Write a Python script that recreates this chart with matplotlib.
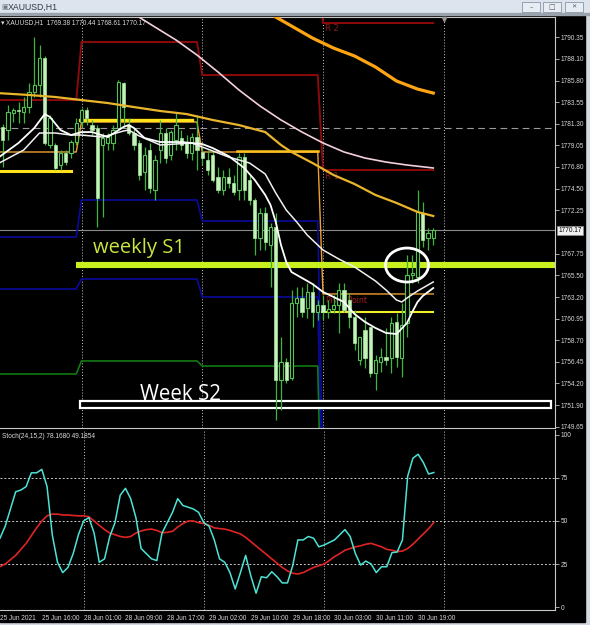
import numpy as np
import matplotlib
matplotlib.use("Agg")
import matplotlib.pyplot as plt
from matplotlib import font_manager
from matplotlib.patches import Rectangle, Ellipse

installed = {f.name for f in font_manager.fontManager.ttflist}
if 'Liberation Sans Narrow' in installed:
    SMALL, FS = 'Liberation Sans Narrow', 5.4
else:
    SMALL, FS = 'Liberation Sans', 4.7
plt.rcParams['font.family'] = [SMALL, 'DejaVu Sans']

# ---- data (bar index 0 = 28 Jun 01:00, H1 bars) ----
bars = np.arange(-15, 68)
opens = [1780.96, 1780.64, 1782.42, 1782.73, 1782.52, 1783.04, 1784.61, 1785.34, 1788.16, 1779.08, 1779.08, 1776.99, 1778.24, 1778.24, 1779.39,
         1781.48, 1782.73, 1781.16, 1780.85, 1779.08, 1779.29, 1779.29, 1780.85, 1785.55, 1781.16, 1780.33, 1779.29, 1776.26, 1778.56, 1774.38, 1778.56, 1780.33, 1778.03, 1779.60, 1779.81, 1779.29, 1778.24, 1779.91,
         1778.35, 1777.51, 1778.03, 1775.74, 1774.38, 1775.74, 1775.11, 1774.38, 1777.83, 1775.43, 1773.34, 1769.37, 1771.98, 1768.64, 1770.52, 1754.55, 1756.43, 1754.76, 1762.59, 1763.11, 1762.07, 1763.74, 1761.65,
         1762.38, 1761.65, 1761.96, 1762.38, 1763.95, 1762.90, 1761.13, 1756.64, 1759.77, 1760.08, 1755.28, 1756.43, 1756.95, 1756.85, 1760.61, 1756.85, 1760.50, 1765.51, 1765.30, 1771.98, 1769.37, 1769.38]
highs = [1781.27, 1783.25, 1782.94, 1783.56, 1784.09, 1785.55, 1790.35, 1789.51, 1788.37, 1782.21, 1779.29, 1778.56, 1778.56, 1779.60, 1781.90,
         1782.94, 1783.04, 1781.69, 1781.16, 1780.33, 1780.33, 1781.16, 1785.86, 1785.65, 1781.90, 1780.85, 1779.60, 1778.87, 1779.29, 1778.03, 1781.69, 1780.85, 1780.64, 1782.42, 1780.64, 1780.12, 1780.33, 1782.21,
         1778.76, 1778.56, 1778.56, 1776.78, 1776.47, 1776.68, 1775.95, 1778.24, 1778.24, 1775.95, 1773.55, 1772.50, 1772.61, 1770.94, 1771.98, 1759.04, 1756.85, 1763.95, 1764.26, 1764.26, 1764.68, 1764.68, 1762.90,
         1763.42, 1762.90, 1763.42, 1764.68, 1764.68, 1763.63, 1761.86, 1759.04, 1761.13, 1760.08, 1757.16, 1757.89, 1759.98, 1761.13, 1761.55, 1762.59, 1767.60, 1767.60, 1774.38, 1773.13, 1770.42, 1770.44]
lows = [1776.78, 1779.60, 1781.48, 1781.37, 1781.37, 1782.42, 1784.09, 1784.09, 1779.08, 1778.76, 1776.47, 1776.47, 1776.99, 1777.72, 1779.08,
        1780.96, 1781.16, 1780.12, 1770.52, 1771.56, 1778.56, 1778.56, 1780.64, 1780.96, 1780.12, 1778.56, 1775.43, 1774.38, 1774.07, 1773.34, 1777.20, 1777.20, 1777.51, 1778.56, 1778.56, 1777.72, 1777.51, 1776.47,
        1776.99, 1775.95, 1775.22, 1774.07, 1773.86, 1774.59, 1773.86, 1773.34, 1773.34, 1772.82, 1767.60, 1768.12, 1768.12, 1764.26, 1750.38, 1751.42, 1754.24, 1754.55, 1761.13, 1761.13, 1761.02, 1760.08, 1760.82,
        1760.82, 1761.02, 1761.55, 1759.46, 1761.65, 1759.98, 1757.68, 1756.12, 1755.81, 1754.87, 1753.51, 1755.39, 1756.12, 1755.28, 1755.91, 1754.87, 1759.04, 1764.68, 1764.68, 1768.43, 1768.12, 1768.61]
closes = [1779.60, 1782.52, 1782.73, 1782.63, 1783.04, 1784.61, 1785.34, 1788.16, 1779.29, 1781.90, 1776.68, 1778.24, 1777.30, 1779.39, 1781.37,
          1782.73, 1781.90, 1780.64, 1773.55, 1779.81, 1779.91, 1780.64, 1785.65, 1783.04, 1780.33, 1779.08, 1775.95, 1778.03, 1774.59, 1777.51, 1780.33, 1777.72, 1780.43, 1781.16, 1779.08, 1778.24, 1779.91, 1778.56,
          1777.72, 1776.47, 1775.43, 1774.38, 1775.74, 1775.11, 1774.17, 1777.83, 1774.38, 1773.34, 1769.37, 1771.98, 1768.95, 1770.52, 1754.55, 1756.43, 1754.55, 1762.59, 1763.11, 1761.65, 1763.74, 1761.65, 1762.38,
          1761.65, 1761.96, 1762.38, 1763.95, 1761.86, 1761.13, 1758.41, 1759.04, 1756.85, 1755.28, 1756.64, 1756.95, 1756.64, 1760.50, 1756.95, 1760.29, 1765.51, 1765.72, 1772.09, 1769.16, 1769.89, 1770.17]

# moving averages (bar, price)
ma_slow_k = [36, 40, 44, 48, 52, 56, 60, 64, 67]
ma_slow = [1792.75, 1791.50, 1790.24, 1789.20, 1788.37, 1787.22, 1785.76, 1784.92, 1784.50]
ma_mid_k = [-16, -10, -5, 0, 5, 10, 15, 20, 25, 30, 35, 38, 40, 44, 48, 52, 56, 60, 64, 67]
ma_mid = [1784.50, 1784.30, 1784.09, 1783.77, 1783.46, 1783.04, 1782.63, 1782.31, 1781.69, 1781.16, 1780.43, 1779.08, 1778.35,
          1777.20, 1775.95, 1775.01, 1773.86, 1773.03, 1772.09, 1771.67]
ma_pink_k = [10, 14, 18, 22, 26, 30, 34, 38, 42, 46, 50, 54, 58, 62, 67]
ma_pink = [1792.75, 1791.39, 1790.04, 1788.47, 1786.70, 1784.82, 1783.15, 1781.69, 1780.43, 1779.29, 1778.35, 1777.72, 1777.30, 1776.99, 1776.68]
ma_fast_k = [-16, -12, -9, -7, -6, -4, -2, 0, 2, 5, 8, 9, 10, 12, 15, 19, 23, 25, 28, 31, 33, 35, 36, 37, 38, 39, 40, 42, 44, 46, 48,
             50, 52, 54, 56, 58, 60, 62, 63, 64, 65, 67]
ma_fast = [1777.70, 1779.29, 1780.85, 1782.31, 1782.00, 1780.64, 1780.12, 1780.43, 1780.43, 1779.91, 1780.96, 1781.17, 1780.85, 1779.81,
           1779.39, 1779.39, 1779.18, 1778.76, 1777.93, 1776.68, 1775.43, 1773.86, 1772.82, 1771.04, 1768.64, 1766.87, 1765.82, 1765.20,
           1764.57, 1763.74, 1763.22, 1762.69, 1761.44, 1760.61, 1759.98, 1759.46, 1759.35, 1760.50, 1761.65, 1762.69, 1763.32, 1764.15]
ma_white_k = [-16, -11, -8, -5, -2, 0, 4, 8, 9, 11, 15, 21, 24, 28, 32, 35, 37, 39, 41, 43, 46, 49, 52, 56, 58, 60, 61, 62, 64, 67]
ma_white = [1777.10, 1778.56, 1780.33, 1780.33, 1780.12, 1780.12, 1779.91, 1780.54, 1780.64, 1780.02, 1779.08, 1779.29, 1778.66, 1777.83,
            1777.20, 1776.05, 1774.07, 1772.29, 1771.04, 1769.68, 1768.12, 1767.18, 1766.35, 1764.88, 1763.95, 1762.90, 1762.69, 1763.11,
            1763.84, 1764.78]

# daily pivot levels: 25 Jun, 28 Jun, 29 Jun, 30 Jun
day_start = [-16, 0, 23, 46]
day_end = [-1, 22, 45, 67]
r2 = [1797.0, 1799.5, 1796.5, 1791.81]
r1 = [1783.77, 1789.83, 1786.38, 1776.47]
pp = [1778.35, 1781.48, 1778.35, 1763.53]
s1 = [1769.48, 1773.34, 1771.15, 1744.0]
s2 = [1764.05, 1765.09, 1763.22, 1738.0]
s3 = [1755.18, 1756.54, 1756.01, 1732.0]

weekly_s1 = 1766.55
week_s2 = 1752.0
dash_level = 1780.85
bid = 1770.17

# stochastic (bars -16..67)
stoch_k = [40, 47, 57, 67, 68, 70, 78, 78, 80, 70, 42, 26, 20, 23, 31, 42,
           50, 52, 43, 26, 28, 41, 49, 65, 69, 63, 52, 34, 31, 28, 27, 43, 49, 55, 63, 59, 58, 57, 55,
           49, 47, 39, 28, 26, 20, 10.5, 20, 30, 18, 8, 17.6, 17, 20.5, 17.6, 14, 14, 24, 39, 39, 41, 40, 35,
           36, 37.5, 39, 42, 45, 41, 31, 24.4, 26.7, 25, 20, 23.4, 23.4, 31.6, 32, 39, 76, 86.5, 88.8, 84, 77.3, 78.17]
stoch_d = [23.5, 25, 27.5, 30, 33.5, 37, 41.5, 46, 50, 53, 54, 54, 53.5, 53.5, 53.2, 53,
           53, 52.5, 50, 47.5, 45, 43, 42, 41, 40.5, 41, 43, 44.2, 45, 45.3, 44.5, 43.2, 43.4, 44, 46.5, 48.5, 50, 50, 49,
           48.5, 47.5, 46, 45.6, 45.3, 44.5, 43.5, 42.5, 40.5, 38, 35.5, 33, 30.5, 28, 25.5, 23, 21, 19.6, 19.2, 20, 21.5, 23, 24,
           25, 27, 29.3, 31, 33, 34, 35, 35.6, 36.5, 37, 36, 35, 33.5, 33, 32.2, 32.5, 34, 36.5, 39.5, 42.5, 45.5, 49.19]

price_ticks = [1790.35, 1788.10, 1785.80, 1783.55, 1781.30, 1779.05, 1776.80, 1774.50, 1772.25,
               1767.75, 1765.50, 1763.20, 1760.95, 1758.70, 1756.45, 1754.20, 1751.90, 1749.65]
time_k = [-16, -8, 0, 8, 16, 24, 32, 40, 48, 56, 64]
time_lbl = ["25 Jun 2021", "25 Jun 16:00", "28 Jun 01:00", "28 Jun 09:00", "28 Jun 17:00", "29 Jun 02:00",
            "29 Jun 10:00", "29 Jun 18:00", "30 Jun 03:00", "30 Jun 11:00", "30 Jun 19:00"]
separators = [0, 23, 46, 69]

# ---- figure ----
W, H = 590, 625
fig = plt.figure(figsize=(5.9, 6.25), dpi=100, facecolor='#d3d9e1')
def fy(py):
    return 1 - py / H

fig.patches.append(Rectangle((0, fy(622)), 585 / W, (622 - 15) / H, transform=fig.transFigure,
                             color='black', zorder=-10))
fig.patches.append(Rectangle((0, fy(13)), 1, 13 / H, transform=fig.transFigure, color='#dde4ee', zorder=-10))
fig.patches.append(Rectangle((0, fy(15)), 1, 2 / H, transform=fig.transFigure, color='#9aa3ad', zorder=-9))
fig.text(8 / W, fy(7), "XAUUSD,H1", fontsize=6.3, color='#303a46', va='center')
fig.text(1.5 / W, fy(7), "\u25a3", fontsize=5, color='#707880', va='center', family='DejaVu Sans')
for bx in [522, 543, 565]:
    fig.patches.append(Rectangle((bx / W, fy(12)), 18 / W, 10 / H, transform=fig.transFigure,
                                 facecolor='#e8edf3', edgecolor='#8a96a6', lw=0.6, zorder=-5))
fig.text(531 / W, fy(7.5), "\u2013", fontsize=5, color='#506070', ha='center', va='center', family='DejaVu Sans')
fig.text(552 / W, fy(7), "\u25a1", fontsize=5, color='#506070', ha='center', va='center', family='DejaVu Sans')
fig.text(574 / W, fy(7), "\u2715", fontsize=4.5, color='#506070', ha='center', va='center', family='DejaVu Sans')

ax = fig.add_axes([0, fy(428), 555 / W, (428 - 17) / H])
ax2 = fig.add_axes([0, fy(610), 555 / W, (610 - 430) / H])
xl = ((0 - 81.5) / 5.25, (555 - 81.5) / 5.25)
for a in (ax, ax2):
    a.set_facecolor('black')
    a.set_xlim(*xl)
    a.spines['left'].set_visible(False)
    for s in ('top', 'right', 'bottom'):
        a.spines[s].set_color('#c8c8c8')
        a.spines[s].set_linewidth(0.8)
    a.yaxis.tick_right()
    a.tick_params(axis='y', direction='out', length=3, width=0.6, color='#c0c0c0', labelcolor='#d8d8d8',
                  labelsize=FS, pad=1.2)
ax2.spines['top'].set_visible(False)
ax.set_ylim(1749.54, 1792.44)
ax2.set_ylim(-1.74, 102.9)
ax.set_xticks([])

# separators
for s in separators:
    ax.axvline(s, color='#c8c8c8', lw=0.7, ls=(0, (1, 2)), zorder=1)
    ax2.axvline(s, color='#c8c8c8', lw=0.7, ls=(0, (1, 2)), zorder=1)

# horizontal lines
ax.axhline(dash_level, color='#9a9a9a', lw=0.8, ls=(0, (6, 4)), zorder=1)
ax.axhline(bid, color='#8a8a8a', lw=0.8, zorder=1)

# pivot steps
def step(levels):
    xs, ys = [], []
    for a0, b0, lv in zip(day_start, day_end, levels):
        xs += [a0, b0]
        ys += [lv, lv]
    return xs, ys

for lv, col, lw in [(r2, '#8c0a0a', 1.4), (r1, '#8c0a0a', 1.4), (s1, '#0a0a9a', 1.2),
                    (s2, '#0a0a9a', 1.2), (s3, '#117a11', 1.2), (pp, '#f0a030', 1.0)]:
    xs, ys = step(lv)
    ax.plot(xs, ys, color=col, lw=lw, zorder=2)

# drawn levels
ax.plot([-15.6, -2], [1776.37, 1776.37], color='#ffe21a', lw=2.2, zorder=2)
ax.plot([-0.3, 21], [1781.69, 1781.69], color='#ffe21a', lw=2.4, zorder=2)
ax.plot([29.6, 45], [1778.45, 1778.45], color='#ffc21e', lw=1.8, zorder=2)
ax.plot([45.8, 67], [1761.65, 1761.65], color='#f2ee2a', lw=1.5, zorder=2)
ax.text(46.4, 1791.29, "R 2", color='#8c1a1a', fontsize=6, va='center', family='DejaVu Sans', zorder=2)
ax.text(46.4, 1775.84, "R 1", color='#8c1a1a', fontsize=6, va='center', family='DejaVu Sans', zorder=2)
ax.text(46.5, 1762.90, "Pivot Point", color='#a81e1e', fontsize=5.6, va='center', family='DejaVu Sans', zorder=2)

ax.plot([-1.05, 92], [weekly_s1, weekly_s1], color='#c8f01e', lw=4.4, solid_capstyle='butt', zorder=2.5)
ax.add_patch(Rectangle((-0.29, week_s2 - 0.33), 89.7, 0.66, facecolor='black', edgecolor='white', lw=1.6, zorder=2.5))
ax.text(2.19, 1767.77, "weekly S1", color='#cbe63e', fontsize=14.5, family=['Open Sans', 'DejaVu Sans'], zorder=6)
ax.text(11.14, 1752.5, "Week S2", color='white', fontsize=14.8, family=['Open Sans', 'DejaVu Sans'], zorder=6)

# candles
o = np.array(opens); h = np.array(highs); l = np.array(lows); c = np.array(closes)
ax.vlines(bars, l, h, color='#3fb43f', lw=0.9, zorder=3)
up = c >= o
body = np.maximum(np.abs(c - o), 0.1)
ax.bar(bars[up], body[up], bottom=np.minimum(o, c)[up], width=0.64, color='black', edgecolor='#52c452',
       lw=0.8, zorder=3.5)
ax.bar(bars[~up], body[~up], bottom=np.minimum(o, c)[~up], width=0.64, color='#c4f2ba', edgecolor='#a6e69c',
       lw=0.5, zorder=3.5)

# moving averages
ax.plot(ma_slow_k, ma_slow, color='#ffa514', lw=2.3, zorder=4)
ax.plot(ma_mid_k, ma_mid, color='#e9b52a', lw=1.6, zorder=4)
ax.plot(ma_pink_k, ma_pink, color='#f3cfe0', lw=1.2, zorder=4)
ax.plot(ma_white_k, ma_white, color='#f0f0f0', lw=1.1, zorder=4)
ax.plot(ma_fast_k, ma_fast, color='white', lw=1.3, zorder=4)

ax.add_patch(Ellipse((62, weekly_s1), 8.2, 3.55, fill=False, edgecolor='white', lw=2.0, zorder=5))
ax.plot([69], [1792.2], marker='v', color='#9a9a9a', ms=3, zorder=5, clip_on=False)

ax.set_yticks(price_ticks)
ax.set_yticklabels([f"{v:.2f}" for v in price_ticks])
ax.text(1.006, bid, f"{bid:.2f}", transform=ax.get_yaxis_transform(), fontsize=FS, color='black',
        va='center', ha='left', bbox=dict(boxstyle='square,pad=0.15', facecolor='#f0f0f0', edgecolor='#909090', lw=0.5),
        clip_on=False, zorder=6)
fig.text(1 / W, fy(23), "\u25be", fontsize=5, color='#d8d8d8', va='center', family='DejaVu Sans')
fig.text(6 / W, fy(23), "XAUUSD,H1  1769.38 1770.44 1768.61 1770.17", fontsize=FS, color='#dcdcdc', va='center')

# stochastic
for lv in (25, 50, 75):
    ax2.axhline(lv, color='#c8c8c8', lw=0.7, ls=(0, (2, 2)), zorder=1)
stoch_x = np.arange(-16, 68)
ax2.plot(stoch_x, stoch_d, color='#e02424', lw=1.2, zorder=3)
ax2.plot(stoch_x, stoch_k, color='#4ce3d6', lw=1.1, zorder=3)
ax2.set_yticks([0, 25, 50, 75, 100])
ax2.set_yticklabels(["0", "25", "50", "75", "100"])
fig.text(2 / W, fy(436.5), "Stoch(24,15,2) 78.1680 49.1854", fontsize=FS, color='#dcdcdc', va='center')

ax2.set_xticks(time_k)
ax2.set_xticklabels(time_lbl)
ax2.tick_params(axis='x', length=0, pad=3.4, labelsize=FS, labelcolor='#d8d8d8')
for t in ax2.get_xticklabels():
    t.set_ha('left')

fig.savefig("out.png", dpi=100, facecolor=fig.get_facecolor())
